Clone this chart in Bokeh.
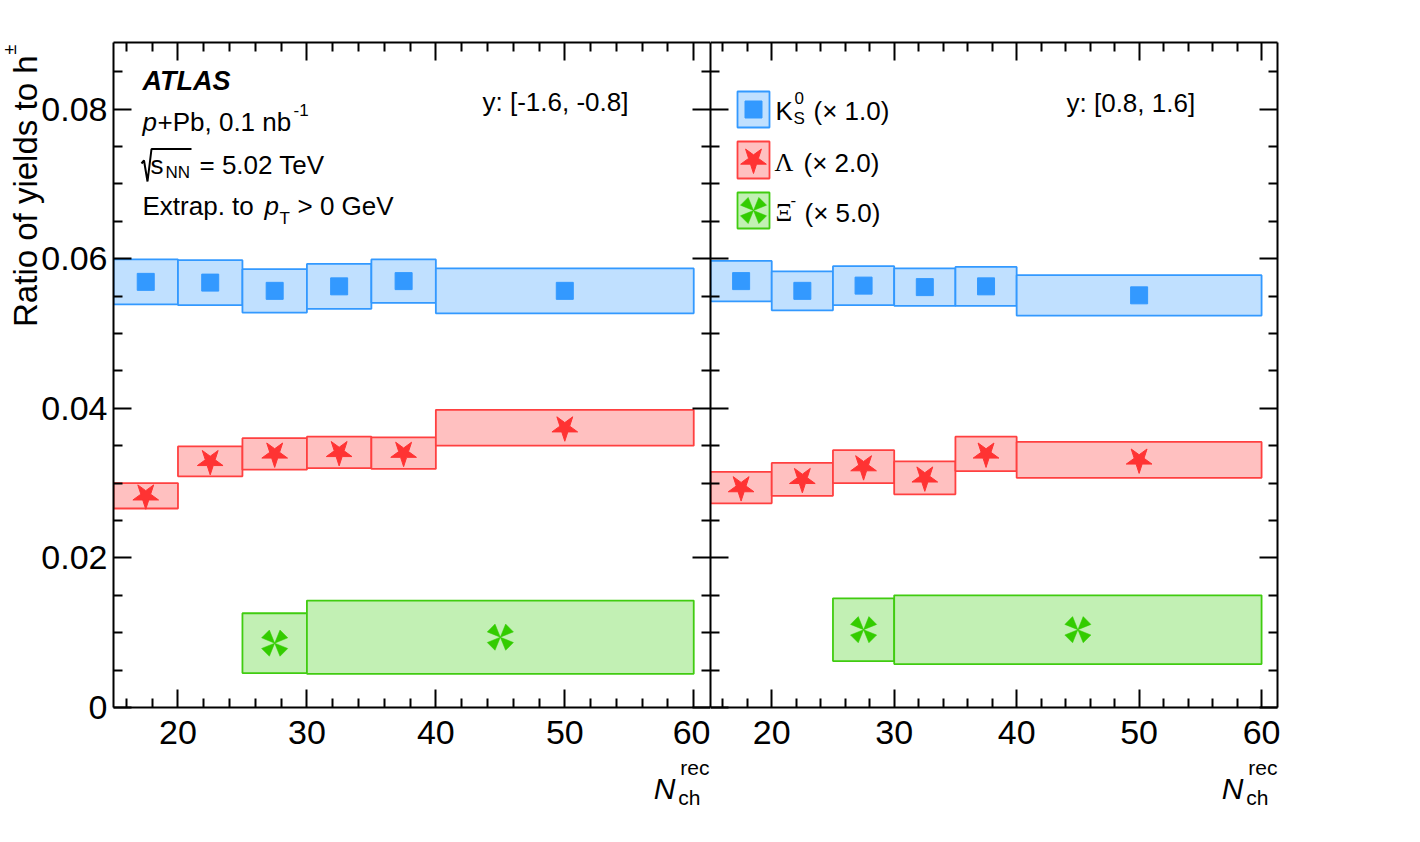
import math
from bokeh.plotting import figure
from bokeh.models import Range1d, LinearAxis, FixedTicker, Label, Title
from bokeh.layouts import row
from bokeh.embed import file_html
from bokeh.resources import INLINE

# ---------------- data ----------------
bin_lo = [15, 20, 25, 30, 35, 40]
bin_hi = [20, 25, 30, 35, 40, 60]
xi_bin_lo = [25, 30]
xi_bin_hi = [30, 60]

# y in [-1.6, -0.8]
k0s_neg_val = [0.0569, 0.0568, 0.0557, 0.0563, 0.0570, 0.0557]
k0s_neg_sys = [0.0030, 0.0030, 0.0029, 0.0030, 0.0029, 0.0030]
lam_neg_val = [0.0283, 0.0329, 0.0339, 0.0341, 0.0340, 0.0374]
lam_neg_sys = [0.0017, 0.0020, 0.0021, 0.0021, 0.0021, 0.0024]
xi_neg_val = [0.0086, 0.0094]
xi_neg_sys = [0.0040, 0.0049]

# y in [0.8, 1.6]
k0s_pos_val = [0.0570, 0.0557, 0.0564, 0.0562, 0.0563, 0.0551]
k0s_pos_sys = [0.0027, 0.0026, 0.0026, 0.0025, 0.0026, 0.0027]
lam_pos_val = [0.0294, 0.0305, 0.0322, 0.0307, 0.0339, 0.0331]
lam_pos_sys = [0.0021, 0.0022, 0.0022, 0.0022, 0.0023, 0.0024]
xi_pos_val = [0.0104, 0.0104]
xi_pos_sys = [0.0042, 0.0046]

x_major = [20, 30, 40, 50, 60]
x_minor = [16, 18, 22, 24, 26, 28, 32, 34, 36, 38, 42, 44, 46, 48, 52, 54, 56, 58]
y_major = [0.0, 0.02, 0.04, 0.06, 0.08]
y_minor = [0.005, 0.01, 0.015, 0.025, 0.03, 0.035, 0.045, 0.05, 0.055, 0.065, 0.07, 0.075, 0.085]
y_labels = ["0", "0.02", "0.04", "0.06", "0.08"]

legend_scale = ["(\u00d7 1.0)", "(\u00d7 2.0)", "(\u00d7 5.0)"]

# ---------------- style ----------------
XMIN, XMAX = 15, 61.3
YMIN, YMAX = 0.0, 0.0889
FRAME_H = 665
FRAME_TOP_PX = 42      # page coordinates
FRAME_BOT_PX = 707
BOTTOM_BORDER = 125
L_LEFT_PX, L_W = 113, 597
R_LEFT_PX, R_W = 710, 567
PPY = FRAME_H / (YMAX - YMIN)
TEXT_DY = -9   # baseline correction for labels

SANS = "Liberation Sans"
SERIF = "Liberation Serif"

BLUE, BLUE_FILL = "#3399ff", "#c0e0ff"
RED, RED_LINE, RED_FILL = "#ff3333", "#ff4040", "#ffc0c0"
GREEN, GREEN_LINE, GREEN_FILL = "#33cc00", "#40cc10", "#c2f0b4"


def fy(py):
    return YMIN + (FRAME_BOT_PX - py) / PPY


def style_axis(ax, ticks, minor, labels):
    ax.ticker = FixedTicker(ticks=ticks, minor_ticks=minor)
    ax.axis_line_width = 2
    ax.axis_line_color = "black"
    ax.major_tick_in = 18
    ax.major_tick_out = 0
    ax.minor_tick_in = 9
    ax.minor_tick_out = 0
    ax.major_tick_line_width = 2
    ax.minor_tick_line_width = 2
    ax.major_tick_line_color = "black"
    ax.minor_tick_line_color = "black"
    ax.major_label_text_font = SANS
    ax.major_label_text_color = "black"
    if labels is None:
        ax.major_label_overrides = {t: "" for t in ticks}
        ax.major_label_text_font_size = "1px"
        ax.major_label_standoff = 0
    else:
        ax.major_label_overrides = labels
        ax.major_label_text_font_size = "34px"


def make_fig(frame_w, border_left, border_right, y_labels_on):
    p = figure(frame_width=frame_w, frame_height=FRAME_H,
               x_range=Range1d(XMIN, XMAX), y_range=Range1d(YMIN, YMAX),
               output_backend="svg", toolbar_location=None,
               min_border_left=border_left, min_border_right=border_right,
               min_border_top=FRAME_TOP_PX, min_border_bottom=BOTTOM_BORDER,
               outline_line_color=None, background_fill_color="white",
               border_fill_color="white")
    p.xgrid.visible = False
    p.ygrid.visible = False
    style_axis(p.xaxis[0], x_major, x_minor, {t: str(t) for t in x_major})
    p.xaxis[0].major_label_standoff = 13
    style_axis(p.yaxis[0], y_major, y_minor,
               dict(zip(y_major, y_labels)) if y_labels_on else None)
    if y_labels_on:
        p.yaxis[0].major_label_standoff = 6
    top = LinearAxis()
    style_axis(top, x_major, x_minor, None)
    p.add_layout(top, "above")
    right = LinearAxis()
    style_axis(right, y_major, y_minor, None)
    p.add_layout(right, "right")
    return p


def xi_marker(p, xs, ys, ppx, color):
    r_out, half_w = 13.0, 5.5
    s2 = math.sqrt(0.5)
    pxs, pys = [], []
    for x0, y0 in zip(xs, ys):
        for sx, sy in ((1, 1), (1, -1), (-1, 1), (-1, -1)):
            ux, uy = sx * s2, sy * s2
            vx, vy = -uy, ux
            ax_, ay_ = r_out * ux + half_w * vx, r_out * uy + half_w * vy
            bx_, by_ = r_out * ux - half_w * vx, r_out * uy - half_w * vy
            pxs.append([x0, x0 + ax_ / ppx, x0 + bx_ / ppx])
            pys.append([y0, y0 + ay_ / PPY, y0 + by_ / PPY])
    p.patches(pxs, pys, fill_color=color, line_color=color, line_width=0.5)


def draw_panel(p, ppx, k_val, k_sys, l_val, l_sys, x_val, x_sys):
    ctr = [(a + b) / 2 for a, b in zip(bin_lo, bin_hi)]
    xctr = [(a + b) / 2 for a, b in zip(xi_bin_lo, xi_bin_hi)]
    p.quad(left=bin_lo, right=bin_hi,
           bottom=[v - s for v, s in zip(k_val, k_sys)],
           top=[v + s for v, s in zip(k_val, k_sys)],
           fill_color=BLUE_FILL, line_color=BLUE, line_width=1.8)
    p.quad(left=bin_lo, right=bin_hi,
           bottom=[v - s for v, s in zip(l_val, l_sys)],
           top=[v + s for v, s in zip(l_val, l_sys)],
           fill_color=RED_FILL, line_color=RED_LINE, line_width=1.8)
    p.quad(left=xi_bin_lo, right=xi_bin_hi,
           bottom=[v - s for v, s in zip(x_val, x_sys)],
           top=[v + s for v, s in zip(x_val, x_sys)],
           fill_color=GREEN_FILL, line_color=GREEN_LINE, line_width=1.8)
    p.scatter(ctr, k_val, marker="square", size=17, fill_color=BLUE, line_color=BLUE)
    p.scatter(ctr, l_val, marker="star", size=27, angle=math.pi,
              fill_color=RED, line_color=RED)
    xi_marker(p, xctr, x_val, ppx, GREEN)


def add_text(p, fx, px, py, text, size, font=SANS, style="normal"):
    p.add_layout(Label(x=fx(px), y=fy(py + TEXT_DY), text=text, text_font=font,
                       text_font_size=f"{size}px", text_font_style=style,
                       text_align="left", text_baseline="alphabetic",
                       text_color="black"))


def add_title(p, side, text, size, style, offset, standoff):
    # texts outside the data frame are placed as side-panel titles
    t = Title(text=text, align="right", vertical_align="bottom", offset=offset,
              text_font=SANS, text_font_size=f"{size}px",
              text_font_style=style, text_color="black")
    try:
        t.standoff = standoff
    except ValueError:
        t.standoff = 0
    p.add_layout(t, side)


PPX_L = L_W / (XMAX - XMIN)
PPX_R = R_W / (XMAX - XMIN)


def fx_l(px):
    return XMIN + (px - L_LEFT_PX) / PPX_L


def fx_r(px):
    return XMIN + (px - R_LEFT_PX) / PPX_R


# ---------------- left panel ----------------
p1 = make_fig(L_W, L_LEFT_PX, 0, True)
draw_panel(p1, PPX_L, k0s_neg_val, k0s_neg_sys, lam_neg_val, lam_neg_sys, xi_neg_val, xi_neg_sys)

add_title(p1, "left", "Ratio of yields to h", 33, "normal", 13, -10)
add_title(p1, "left", "\u00b1", 18, "normal", 2, -21)

add_text(p1, fx_l, 142, 89, "ATLAS", 27, style="bold italic")
add_text(p1, fx_l, 142, 130, "p", 26, style="italic")
add_text(p1, fx_l, 157, 130, "+Pb, 0.1 nb", 26)
add_text(p1, fx_l, 293, 118, "-1", 17)
# square-root sign drawn as strokes
p1.line([fx_l(141), fx_l(143.5), fx_l(147), fx_l(151), fx_l(191)],
        [fy(163), fy(160), fy(181), fy(148.5), fy(148.5)],
        line_color="black", line_width=2)
add_text(p1, fx_l, 150, 173, "s", 26)
add_text(p1, fx_l, 165, 181, "NN", 17)
add_text(p1, fx_l, 199, 173, "= 5.02 TeV", 26)
add_text(p1, fx_l, 142, 214, "Extrap. to", 26)
add_text(p1, fx_l, 264, 214, "p", 26, style="italic")
add_text(p1, fx_l, 279, 227, "T", 17)
add_text(p1, fx_l, 297, 214, "> 0 GeV", 26)
add_text(p1, fx_l, 482, 110, "y: [-1.6, -0.8]", 26)

add_title(p1, "below", "rec", 21, "normal", 1, 14)
add_title(p1, "below", "N", 30, "italic", 35, -32)
add_title(p1, "below", "ch", 21, "normal", 10, -10)

# ---------------- right panel ----------------
p2 = make_fig(R_W, 0, 20, False)
draw_panel(p2, PPX_R, k0s_pos_val, k0s_pos_sys, lam_pos_val, lam_pos_sys, xi_pos_val, xi_pos_sys)

add_text(p2, fx_r, 1066, 111, "y: [0.8, 1.6]", 26)
add_title(p2, "below", "rec", 21, "normal", 0, 14)
add_title(p2, "below", "N", 30, "italic", 34, -32)
add_title(p2, "below", "ch", 21, "normal", 9, -10)

# legend
leg_box_top = [91, 141, 192]
leg_box_bot = [127, 178, 228]
leg_fill = [BLUE_FILL, RED_FILL, GREEN_FILL]
leg_line = [BLUE, RED_LINE, GREEN_LINE]
p2.quad(left=[fx_r(737)] * 3, right=[fx_r(769)] * 3,
        top=[fy(v) for v in leg_box_top], bottom=[fy(v) for v in leg_box_bot],
        fill_color=leg_fill, line_color=leg_line, line_width=1.8)
p2.scatter([fx_r(753)], [fy(109)], marker="square", size=17, fill_color=BLUE, line_color=BLUE)
p2.scatter([fx_r(753)], [fy(159.5)], marker="star", size=27, angle=math.pi,
           fill_color=RED, line_color=RED)
xi_marker(p2, [fx_r(753)], [fy(210)], PPX_R, GREEN)

add_text(p2, fx_r, 775, 119, "K", 26)
add_text(p2, fx_r, 794, 106, "0", 17)
add_text(p2, fx_r, 793, 127, "S", 17)
add_text(p2, fx_r, 813, 119, legend_scale[0], 26)
add_text(p2, fx_r, 774, 171, "\u039b", 26, font=SERIF)
add_text(p2, fx_r, 803, 171, legend_scale[1], 26)
add_text(p2, fx_r, 775, 221, "\u039e", 26, font=SERIF)
add_text(p2, fx_r, 790, 208, "-", 17)
add_text(p2, fx_r, 804, 221, legend_scale[2], 26)

layout = row(p1, p2)
open("out.html", "w").write(file_html(layout, INLINE))
